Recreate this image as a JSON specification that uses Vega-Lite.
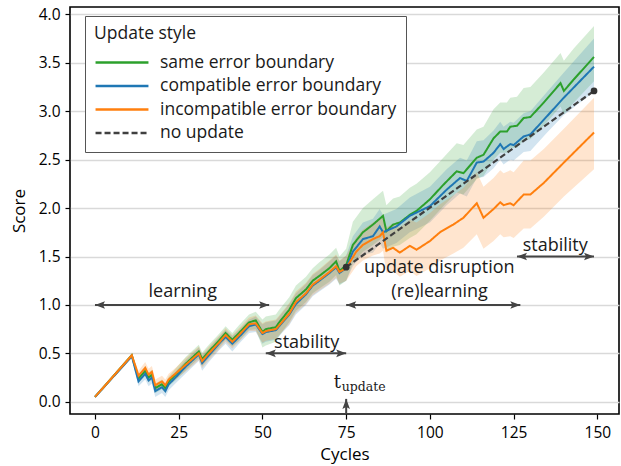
{
  "$schema": "https://vega.github.io/schema/vega-lite/v6.json",
  "width": 549,
  "height": 407,
  "autosize": {"type": "none"},
  "padding": {"left": 70, "top": 7, "right": 2, "bottom": 52},
  "background": "white",
  "config": {
    "font": "Open Sans",
    "view": {"stroke": "black", "strokeWidth": 1.6},
    "axis": {
      "domain": false,
      "tickColor": "black",
      "tickSize": 5,
      "tickWidth": 1.2,
      "labelFontSize": 15.5,
      "labelColor": "black",
      "labelFont": "Open Sans",
      "titleFont": "Open Sans",
      "titleFontSize": 17,
      "titleFontWeight": "normal",
      "titleColor": "black"
    },
    "legend": {
      "orient": "none",
      "legendX": 15,
      "legendY": 9,
      "padding": 9,
      "strokeColor": "#555555",
      "fillColor": "white",
      "cornerRadius": 0,
      "titleFontSize": 17.5,
      "titleFontWeight": "normal",
      "titleColor": "#1a1a1a",
      "titleFont": "Open Sans",
      "titlePadding": 10,
      "labelFontSize": 17.5,
      "labelFont": "Open Sans",
      "labelColor": "#1a1a1a",
      "labelOffset": 10,
      "labelLimit": 400,
      "symbolType": "stroke",
      "symbolSize": 2800,
      "symbolStrokeWidth": 2.5,
      "clipHeight": 20,
      "rowPadding": 3.5
    }
  },
  "datasets": {
    "lines": [
      {"c":0,"s":"same error boundary","v":0.05,"lo":0.04,"hi":0.06},
      {"c":11,"s":"same error boundary","v":0.48,"lo":0.46,"hi":0.50},
      {"c":13,"s":"same error boundary","v":0.24,"lo":0.20,"hi":0.28},
      {"c":15,"s":"same error boundary","v":0.32,"lo":0.27,"hi":0.37},
      {"c":16,"s":"same error boundary","v":0.25,"lo":0.20,"hi":0.30},
      {"c":17,"s":"same error boundary","v":0.28,"lo":0.23,"hi":0.33},
      {"c":18,"s":"same error boundary","v":0.14,"lo":0.09,"hi":0.19},
      {"c":20,"s":"same error boundary","v":0.18,"lo":0.13,"hi":0.23},
      {"c":21,"s":"same error boundary","v":0.14,"lo":0.09,"hi":0.19},
      {"c":22,"s":"same error boundary","v":0.21,"lo":0.16,"hi":0.26},
      {"c":24,"s":"same error boundary","v":0.28,"lo":0.22,"hi":0.34},
      {"c":27,"s":"same error boundary","v":0.39,"lo":0.32,"hi":0.46},
      {"c":31,"s":"same error boundary","v":0.52,"lo":0.45,"hi":0.59},
      {"c":32,"s":"same error boundary","v":0.44,"lo":0.37,"hi":0.51},
      {"c":34,"s":"same error boundary","v":0.52,"lo":0.45,"hi":0.59},
      {"c":37,"s":"same error boundary","v":0.63,"lo":0.56,"hi":0.70},
      {"c":39,"s":"same error boundary","v":0.71,"lo":0.64,"hi":0.78},
      {"c":41,"s":"same error boundary","v":0.64,"lo":0.57,"hi":0.71},
      {"c":43,"s":"same error boundary","v":0.71,"lo":0.63,"hi":0.79},
      {"c":46,"s":"same error boundary","v":0.82,"lo":0.74,"hi":0.90},
      {"c":48,"s":"same error boundary","v":0.84,"lo":0.75,"hi":0.93},
      {"c":50,"s":"same error boundary","v":0.72,"lo":0.56,"hi":0.85},
      {"c":51,"s":"same error boundary","v":0.75,"lo":0.58,"hi":0.88},
      {"c":54,"s":"same error boundary","v":0.77,"lo":0.62,"hi":0.90},
      {"c":55,"s":"same error boundary","v":0.82,"lo":0.68,"hi":0.95},
      {"c":58,"s":"same error boundary","v":0.95,"lo":0.82,"hi":1.08},
      {"c":60,"s":"same error boundary","v":1.07,"lo":0.94,"hi":1.20},
      {"c":63,"s":"same error boundary","v":1.16,"lo":1.03,"hi":1.29},
      {"c":65,"s":"same error boundary","v":1.25,"lo":1.12,"hi":1.38},
      {"c":67,"s":"same error boundary","v":1.30,"lo":1.17,"hi":1.44},
      {"c":70,"s":"same error boundary","v":1.38,"lo":1.24,"hi":1.52},
      {"c":72,"s":"same error boundary","v":1.45,"lo":1.31,"hi":1.59},
      {"c":73,"s":"same error boundary","v":1.35,"lo":1.20,"hi":1.50},
      {"c":75,"s":"same error boundary","v":1.41,"lo":1.25,"hi":1.58},
      {"c":77,"s":"same error boundary","v":1.62,"lo":1.43,"hi":1.86},
      {"c":80,"s":"same error boundary","v":1.75,"lo":1.55,"hi":2.00},
      {"c":83,"s":"same error boundary","v":1.83,"lo":1.62,"hi":2.09},
      {"c":86,"s":"same error boundary","v":1.92,"lo":1.70,"hi":2.18},
      {"c":87,"s":"same error boundary","v":1.76,"lo":1.54,"hi":2.03},
      {"c":89,"s":"same error boundary","v":1.83,"lo":1.60,"hi":2.10},
      {"c":91,"s":"same error boundary","v":1.85,"lo":1.62,"hi":2.12},
      {"c":94,"s":"same error boundary","v":1.93,"lo":1.69,"hi":2.21},
      {"c":96,"s":"same error boundary","v":1.97,"lo":1.73,"hi":2.25},
      {"c":100,"s":"same error boundary","v":2.09,"lo":1.87,"hi":2.37},
      {"c":104,"s":"same error boundary","v":2.24,"lo":2.02,"hi":2.52},
      {"c":108,"s":"same error boundary","v":2.38,"lo":2.16,"hi":2.67},
      {"c":110,"s":"same error boundary","v":2.36,"lo":2.14,"hi":2.65},
      {"c":114,"s":"same error boundary","v":2.52,"lo":2.30,"hi":2.81},
      {"c":116,"s":"same error boundary","v":2.55,"lo":2.33,"hi":2.84},
      {"c":119,"s":"same error boundary","v":2.72,"lo":2.50,"hi":3.02},
      {"c":121,"s":"same error boundary","v":2.79,"lo":2.57,"hi":3.09},
      {"c":123,"s":"same error boundary","v":2.79,"lo":2.57,"hi":3.09},
      {"c":124,"s":"same error boundary","v":2.84,"lo":2.62,"hi":3.14},
      {"c":126,"s":"same error boundary","v":2.85,"lo":2.62,"hi":3.15},
      {"c":128,"s":"same error boundary","v":2.93,"lo":2.70,"hi":3.24},
      {"c":130,"s":"same error boundary","v":2.94,"lo":2.71,"hi":3.25},
      {"c":134,"s":"same error boundary","v":3.09,"lo":2.85,"hi":3.40},
      {"c":139,"s":"same error boundary","v":3.29,"lo":3.05,"hi":3.60},
      {"c":140,"s":"same error boundary","v":3.21,"lo":2.97,"hi":3.52},
      {"c":143,"s":"same error boundary","v":3.33,"lo":3.09,"hi":3.65},
      {"c":149,"s":"same error boundary","v":3.56,"lo":3.31,"hi":3.88},

      {"c":0,"s":"compatible error boundary","v":0.05,"lo":0.04,"hi":0.06},
      {"c":11,"s":"compatible error boundary","v":0.47,"lo":0.45,"hi":0.49},
      {"c":13,"s":"compatible error boundary","v":0.21,"lo":0.16,"hi":0.26},
      {"c":15,"s":"compatible error boundary","v":0.29,"lo":0.23,"hi":0.35},
      {"c":16,"s":"compatible error boundary","v":0.22,"lo":0.16,"hi":0.28},
      {"c":17,"s":"compatible error boundary","v":0.25,"lo":0.19,"hi":0.31},
      {"c":18,"s":"compatible error boundary","v":0.11,"lo":0.05,"hi":0.17},
      {"c":20,"s":"compatible error boundary","v":0.15,"lo":0.09,"hi":0.21},
      {"c":21,"s":"compatible error boundary","v":0.11,"lo":0.05,"hi":0.17},
      {"c":22,"s":"compatible error boundary","v":0.18,"lo":0.12,"hi":0.24},
      {"c":24,"s":"compatible error boundary","v":0.25,"lo":0.19,"hi":0.31},
      {"c":27,"s":"compatible error boundary","v":0.36,"lo":0.29,"hi":0.43},
      {"c":31,"s":"compatible error boundary","v":0.49,"lo":0.42,"hi":0.56},
      {"c":32,"s":"compatible error boundary","v":0.40,"lo":0.32,"hi":0.48},
      {"c":34,"s":"compatible error boundary","v":0.48,"lo":0.41,"hi":0.55},
      {"c":37,"s":"compatible error boundary","v":0.60,"lo":0.53,"hi":0.67},
      {"c":39,"s":"compatible error boundary","v":0.67,"lo":0.60,"hi":0.74},
      {"c":41,"s":"compatible error boundary","v":0.60,"lo":0.52,"hi":0.68},
      {"c":43,"s":"compatible error boundary","v":0.67,"lo":0.60,"hi":0.74},
      {"c":46,"s":"compatible error boundary","v":0.78,"lo":0.71,"hi":0.85},
      {"c":48,"s":"compatible error boundary","v":0.80,"lo":0.72,"hi":0.88},
      {"c":50,"s":"compatible error boundary","v":0.70,"lo":0.60,"hi":0.80},
      {"c":51,"s":"compatible error boundary","v":0.72,"lo":0.62,"hi":0.82},
      {"c":54,"s":"compatible error boundary","v":0.74,"lo":0.64,"hi":0.84},
      {"c":55,"s":"compatible error boundary","v":0.78,"lo":0.68,"hi":0.88},
      {"c":58,"s":"compatible error boundary","v":0.90,"lo":0.79,"hi":1.01},
      {"c":60,"s":"compatible error boundary","v":1.01,"lo":0.90,"hi":1.12},
      {"c":63,"s":"compatible error boundary","v":1.11,"lo":1.00,"hi":1.22},
      {"c":65,"s":"compatible error boundary","v":1.20,"lo":1.09,"hi":1.31},
      {"c":67,"s":"compatible error boundary","v":1.25,"lo":1.14,"hi":1.36},
      {"c":70,"s":"compatible error boundary","v":1.33,"lo":1.21,"hi":1.45},
      {"c":72,"s":"compatible error boundary","v":1.39,"lo":1.27,"hi":1.51},
      {"c":73,"s":"compatible error boundary","v":1.33,"lo":1.21,"hi":1.45},
      {"c":75,"s":"compatible error boundary","v":1.38,"lo":1.25,"hi":1.51},
      {"c":77,"s":"compatible error boundary","v":1.55,"lo":1.40,"hi":1.71},
      {"c":80,"s":"compatible error boundary","v":1.68,"lo":1.52,"hi":1.85},
      {"c":83,"s":"compatible error boundary","v":1.71,"lo":1.54,"hi":1.89},
      {"c":85,"s":"compatible error boundary","v":1.81,"lo":1.64,"hi":1.99},
      {"c":86,"s":"compatible error boundary","v":1.75,"lo":1.58,"hi":1.93},
      {"c":90,"s":"compatible error boundary","v":1.81,"lo":1.64,"hi":1.99},
      {"c":94,"s":"compatible error boundary","v":1.92,"lo":1.75,"hi":2.11},
      {"c":100,"s":"compatible error boundary","v":2.02,"lo":1.85,"hi":2.22},
      {"c":105,"s":"compatible error boundary","v":2.19,"lo":2.03,"hi":2.40},
      {"c":109,"s":"compatible error boundary","v":2.31,"lo":2.15,"hi":2.52},
      {"c":111,"s":"compatible error boundary","v":2.28,"lo":2.12,"hi":2.49},
      {"c":114,"s":"compatible error boundary","v":2.47,"lo":2.31,"hi":2.69},
      {"c":116,"s":"compatible error boundary","v":2.48,"lo":2.32,"hi":2.70},
      {"c":119,"s":"compatible error boundary","v":2.57,"lo":2.41,"hi":2.80},
      {"c":121,"s":"compatible error boundary","v":2.66,"lo":2.50,"hi":2.89},
      {"c":122,"s":"compatible error boundary","v":2.61,"lo":2.45,"hi":2.84},
      {"c":124,"s":"compatible error boundary","v":2.66,"lo":2.50,"hi":2.89},
      {"c":125,"s":"compatible error boundary","v":2.65,"lo":2.49,"hi":2.88},
      {"c":128,"s":"compatible error boundary","v":2.74,"lo":2.58,"hi":2.98},
      {"c":130,"s":"compatible error boundary","v":2.76,"lo":2.59,"hi":3.00},
      {"c":135,"s":"compatible error boundary","v":2.95,"lo":2.78,"hi":3.20},
      {"c":140,"s":"compatible error boundary","v":3.14,"lo":2.96,"hi":3.40},
      {"c":149,"s":"compatible error boundary","v":3.46,"lo":3.20,"hi":3.75},

      {"c":0,"s":"incompatible error boundary","v":0.05,"lo":0.04,"hi":0.06},
      {"c":11,"s":"incompatible error boundary","v":0.48,"lo":0.46,"hi":0.50},
      {"c":13,"s":"incompatible error boundary","v":0.27,"lo":0.22,"hi":0.32},
      {"c":15,"s":"incompatible error boundary","v":0.35,"lo":0.29,"hi":0.41},
      {"c":16,"s":"incompatible error boundary","v":0.28,"lo":0.22,"hi":0.34},
      {"c":17,"s":"incompatible error boundary","v":0.31,"lo":0.25,"hi":0.37},
      {"c":18,"s":"incompatible error boundary","v":0.17,"lo":0.11,"hi":0.23},
      {"c":20,"s":"incompatible error boundary","v":0.21,"lo":0.15,"hi":0.27},
      {"c":21,"s":"incompatible error boundary","v":0.17,"lo":0.11,"hi":0.23},
      {"c":22,"s":"incompatible error boundary","v":0.23,"lo":0.17,"hi":0.29},
      {"c":24,"s":"incompatible error boundary","v":0.29,"lo":0.23,"hi":0.35},
      {"c":27,"s":"incompatible error boundary","v":0.38,"lo":0.31,"hi":0.45},
      {"c":31,"s":"incompatible error boundary","v":0.50,"lo":0.43,"hi":0.57},
      {"c":32,"s":"incompatible error boundary","v":0.42,"lo":0.35,"hi":0.49},
      {"c":34,"s":"incompatible error boundary","v":0.50,"lo":0.43,"hi":0.57},
      {"c":37,"s":"incompatible error boundary","v":0.61,"lo":0.54,"hi":0.68},
      {"c":39,"s":"incompatible error boundary","v":0.69,"lo":0.62,"hi":0.76},
      {"c":41,"s":"incompatible error boundary","v":0.62,"lo":0.55,"hi":0.69},
      {"c":43,"s":"incompatible error boundary","v":0.69,"lo":0.62,"hi":0.76},
      {"c":46,"s":"incompatible error boundary","v":0.80,"lo":0.73,"hi":0.87},
      {"c":48,"s":"incompatible error boundary","v":0.81,"lo":0.73,"hi":0.89},
      {"c":50,"s":"incompatible error boundary","v":0.71,"lo":0.61,"hi":0.81},
      {"c":51,"s":"incompatible error boundary","v":0.73,"lo":0.63,"hi":0.83},
      {"c":54,"s":"incompatible error boundary","v":0.75,"lo":0.65,"hi":0.85},
      {"c":55,"s":"incompatible error boundary","v":0.79,"lo":0.69,"hi":0.89},
      {"c":58,"s":"incompatible error boundary","v":0.91,"lo":0.80,"hi":1.02},
      {"c":60,"s":"incompatible error boundary","v":1.03,"lo":0.92,"hi":1.14},
      {"c":63,"s":"incompatible error boundary","v":1.12,"lo":1.01,"hi":1.23},
      {"c":65,"s":"incompatible error boundary","v":1.21,"lo":1.10,"hi":1.32},
      {"c":67,"s":"incompatible error boundary","v":1.26,"lo":1.15,"hi":1.37},
      {"c":70,"s":"incompatible error boundary","v":1.34,"lo":1.22,"hi":1.46},
      {"c":72,"s":"incompatible error boundary","v":1.40,"lo":1.28,"hi":1.52},
      {"c":73,"s":"incompatible error boundary","v":1.34,"lo":1.22,"hi":1.46},
      {"c":75,"s":"incompatible error boundary","v":1.38,"lo":1.25,"hi":1.51},
      {"c":78,"s":"incompatible error boundary","v":1.55,"lo":1.40,"hi":1.70},
      {"c":80,"s":"incompatible error boundary","v":1.62,"lo":1.46,"hi":1.78},
      {"c":83,"s":"incompatible error boundary","v":1.68,"lo":1.51,"hi":1.85},
      {"c":85,"s":"incompatible error boundary","v":1.71,"lo":1.53,"hi":1.89},
      {"c":86,"s":"incompatible error boundary","v":1.75,"lo":1.56,"hi":1.94},
      {"c":87,"s":"incompatible error boundary","v":1.56,"lo":1.33,"hi":1.80},
      {"c":89,"s":"incompatible error boundary","v":1.59,"lo":1.35,"hi":1.84},
      {"c":91,"s":"incompatible error boundary","v":1.54,"lo":1.29,"hi":1.80},
      {"c":94,"s":"incompatible error boundary","v":1.61,"lo":1.35,"hi":1.88},
      {"c":96,"s":"incompatible error boundary","v":1.57,"lo":1.30,"hi":1.85},
      {"c":100,"s":"incompatible error boundary","v":1.66,"lo":1.38,"hi":1.95},
      {"c":103,"s":"incompatible error boundary","v":1.75,"lo":1.46,"hi":2.04},
      {"c":107,"s":"incompatible error boundary","v":1.83,"lo":1.53,"hi":2.13},
      {"c":110,"s":"incompatible error boundary","v":1.90,"lo":1.59,"hi":2.21},
      {"c":114,"s":"incompatible error boundary","v":2.05,"lo":1.73,"hi":2.37},
      {"c":116,"s":"incompatible error boundary","v":1.90,"lo":1.58,"hi":2.22},
      {"c":119,"s":"incompatible error boundary","v":1.99,"lo":1.66,"hi":2.31},
      {"c":121,"s":"incompatible error boundary","v":2.06,"lo":1.73,"hi":2.39},
      {"c":122,"s":"incompatible error boundary","v":2.03,"lo":1.70,"hi":2.36},
      {"c":124,"s":"incompatible error boundary","v":2.05,"lo":1.71,"hi":2.39},
      {"c":125,"s":"incompatible error boundary","v":2.03,"lo":1.69,"hi":2.37},
      {"c":128,"s":"incompatible error boundary","v":2.14,"lo":1.79,"hi":2.49},
      {"c":130,"s":"incompatible error boundary","v":2.14,"lo":1.79,"hi":2.49},
      {"c":134,"s":"incompatible error boundary","v":2.26,"lo":1.91,"hi":2.61},
      {"c":140,"s":"incompatible error boundary","v":2.47,"lo":2.12,"hi":2.82},
      {"c":149,"s":"incompatible error boundary","v":2.78,"lo":2.40,"hi":3.14}
    ],
    "noupdate": [
      {"c": 75, "s": "no update", "v": 1.39},
      {"c": 149, "s": "no update", "v": 3.21}
    ],
    "arrows": [
      {"x1": 0, "x2": 52, "y": 1.0},
      {"x1": 51, "x2": 75, "y": 0.5},
      {"x1": 75, "x2": 127, "y": 1.0},
      {"x1": 126, "x2": 149, "y": 1.5}
    ],
    "uparrow": [
      {"x": 75, "y1": -0.126, "y2": 0.03}
    ],
    "labels": [
      {"c": 26.2, "y": 1.13, "t": "learning"},
      {"c": 63.2, "y": 0.61, "t": "stability"},
      {"c": 102.8, "y": 1.38, "t": "update disruption"},
      {"c": 102.9, "y": 1.13, "t": "(re)learning"},
      {"c": 137.4, "y": 1.61, "t": "stability"}
    ],
    "tmain": [{"c": 72.4, "y": 0.139, "t": "t"}],
    "tsub": [{"c": 73.7, "y": 0.108, "t": "update"}]
  },
  "layer": [
    {
      "data": {"name": "lines"},
      "mark": {"type": "area", "opacity": 0.2},
      "encoding": {
        "x": {"field": "c", "type": "quantitative", "title": "Cycles",
              "scale": {"domain": [-7.46, 156.46], "nice": false, "zero": false},
              "axis": {"values": [0, 25, 50, 75, 100, 125, 150], "grid": false, "labelPadding": 6, "titlePadding": 6}},
        "y": {"field": "lo", "type": "quantitative", "title": "Score",
              "scale": {"domain": [-0.126, 4.076], "nice": false, "zero": false},
              "axis": {"values": [0, 0.5, 1, 1.5, 2, 2.5, 3, 3.5, 4], "format": ".1f", "grid": true, "gridColor": "#d9d9d9", "gridWidth": 1.5, "labelPadding": 5, "titlePadding": 10}},
        "y2": {"field": "hi"},
        "fill": {"field": "s", "type": "nominal", "legend": null,
                  "scale": {"domain": ["same error boundary", "compatible error boundary", "incompatible error boundary"],
                            "range": ["#2ca02c", "#1f77b4", "#ff7f0e"]}},
        "detail": {"field": "s"}
      }
    },
    {
      "data": {"name": "lines"},
      "mark": {"type": "line", "strokeWidth": 2},
      "encoding": {
        "x": {"field": "c", "type": "quantitative", "title": "Cycles"},
        "y": {"field": "v", "type": "quantitative", "title": "Score"},
        "color": {"field": "s", "type": "nominal", "title": "Update style",
                  "scale": {"domain": ["same error boundary", "compatible error boundary", "incompatible error boundary", "no update"],
                            "range": ["#2ca02c", "#1f77b4", "#ff7f0e", "#404040"]}},
        "strokeDash": {"field": "s", "type": "nominal", "title": "Update style",
                  "scale": {"domain": ["same error boundary", "compatible error boundary", "incompatible error boundary", "no update"],
                            "range": [[1, 0], [1, 0], [1, 0], [6, 3]]}},
        "order": {"field": "c", "type": "quantitative"}
      }
    },
    {
      "data": {"name": "noupdate"},
      "mark": {"type": "line", "strokeWidth": 2.2},
      "encoding": {
        "x": {"field": "c", "type": "quantitative", "title": "Cycles"},
        "y": {"field": "v", "type": "quantitative", "title": "Score"},
        "color": {"field": "s", "type": "nominal", "title": "Update style"},
        "strokeDash": {"field": "s", "type": "nominal", "title": "Update style"}
      }
    },
    {
      "data": {"name": "noupdate"},
      "mark": {"type": "point", "filled": true, "size": 45, "color": "#333333", "opacity": 1},
      "encoding": {
        "x": {"field": "c", "type": "quantitative", "title": "Cycles"},
        "y": {"field": "v", "type": "quantitative", "title": "Score"}
      }
    },
    {
      "data": {"name": "arrows"},
      "mark": {"type": "rule", "color": "#444444", "strokeWidth": 2},
      "encoding": {
        "x": {"field": "x1", "type": "quantitative", "title": "Cycles"},
        "x2": {"field": "x2"},
        "y": {"field": "y", "type": "quantitative", "title": "Score"}
      }
    },
    {
      "data": {"name": "arrows"},
      "mark": {"type": "point", "filled": true, "opacity": 1, "color": "#444444", "size": 400, "shape": "M0,0L-1,-0.38L-0.8,0L-1,0.38Z"},
      "encoding": {
        "x": {"field": "x2", "type": "quantitative", "title": "Cycles"},
        "y": {"field": "y", "type": "quantitative", "title": "Score"}
      }
    },
    {
      "data": {"name": "arrows"},
      "mark": {"type": "point", "filled": true, "opacity": 1, "color": "#444444", "size": 400, "shape": "M0,0L1,-0.38L0.8,0L1,0.38Z"},
      "encoding": {
        "x": {"field": "x1", "type": "quantitative", "title": "Cycles"},
        "y": {"field": "y", "type": "quantitative", "title": "Score"}
      }
    },
    {
      "data": {"name": "uparrow"},
      "mark": {"type": "rule", "color": "#444444", "strokeWidth": 2},
      "encoding": {
        "x": {"field": "x", "type": "quantitative", "title": "Cycles"},
        "y": {"field": "y1", "type": "quantitative", "title": "Score"},
        "y2": {"field": "y2"}
      }
    },
    {
      "data": {"name": "uparrow"},
      "mark": {"type": "point", "filled": true, "opacity": 1, "color": "#444444", "size": 400, "shape": "M0,0L-0.38,1L0,0.8L0.38,1Z"},
      "encoding": {
        "x": {"field": "x", "type": "quantitative", "title": "Cycles"},
        "y": {"field": "y2", "type": "quantitative", "title": "Score"}
      }
    },
    {
      "data": {"name": "labels"},
      "mark": {"type": "text", "fontSize": 18, "font": "Open Sans", "color": "#1a1a1a", "align": "center", "baseline": "middle"},
      "encoding": {
        "x": {"field": "c", "type": "quantitative", "title": "Cycles"},
        "y": {"field": "y", "type": "quantitative", "title": "Score"},
        "text": {"field": "t"}
      }
    },
    {
      "data": {"name": "tmain"},
      "mark": {"type": "text", "fontSize": 18, "font": "DejaVu Serif", "color": "#1a1a1a", "align": "center", "baseline": "alphabetic"},
      "encoding": {
        "x": {"field": "c", "type": "quantitative", "title": "Cycles"},
        "y": {"field": "y", "type": "quantitative", "title": "Score"},
        "text": {"field": "t"}
      }
    },
    {
      "data": {"name": "tsub"},
      "mark": {"type": "text", "fontSize": 12.5, "font": "DejaVu Serif", "color": "#1a1a1a", "align": "left", "baseline": "alphabetic"},
      "encoding": {
        "x": {"field": "c", "type": "quantitative", "title": "Cycles"},
        "y": {"field": "y", "type": "quantitative", "title": "Score"},
        "text": {"field": "t"}
      }
    }
  ]
}
